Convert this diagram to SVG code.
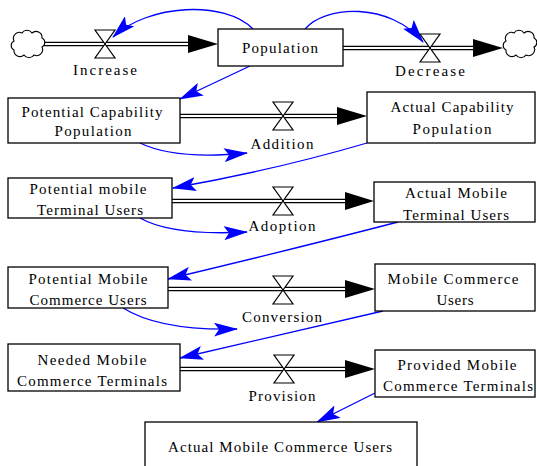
<svg xmlns="http://www.w3.org/2000/svg" width="537" height="466" viewBox="0 0 537 466">
<style>
text{font-family:"Liberation Serif","Times New Roman",serif;font-size:15px;fill:#000;text-anchor:middle}
.box{fill:#fff;stroke:#000;stroke-width:1.3}
.pipeO{stroke:#000;stroke-width:4.4;fill:none}
.pipeI{stroke:#fff;stroke-width:1.8;fill:none}
.head{fill:#000}
.link{stroke:#0000ff;stroke-width:1.3;fill:none;marker-end:url(#blue)}
.valve{fill:#fff;stroke:#000;stroke-width:1.2;stroke-linejoin:miter}
.cloud{fill:#fff;stroke:#000;stroke-width:1.1}
</style>
<defs>
<marker id="blue" viewBox="0 0 24 14" refX="23" refY="7" markerWidth="24" markerHeight="14" markerUnits="userSpaceOnUse" orient="auto">
<path d="M0,0 L24,7 L0,14 L5,7 Z" fill="#0000ff"/>
</marker>
<path id="hourglass" class="valve" d="M-10,-14 H10 L0,0 Z M-10,14 H10 L0,0 Z"/>
<path id="cloudShape" class="cloud" d="M14,50 a5,5 0 0 1 0,-9 a6,6 0 0 1 8,-8 a6,6 0 0 1 10,0 a6,6 0 0 1 10,5 a5,5 0 0 1 0,9 a6,6 0 0 1 -8,8 a6,6 0 0 1 -10,0 a6,6 0 0 1 -10,-5 Z"/>
</defs>
<rect width="537" height="466" fill="#fff"/>

<g id="connectors">
<path class="pipeO" d="M44,44 H192"/><path class="pipeI" d="M44,44 H192"/>
<polygon class="head" points="188,35 218,44 188,53"/>
<path class="pipeO" d="M343,48 H477"/><path class="pipeI" d="M343,48 H477"/>
<polygon class="head" points="473,39 503,48 473,57"/>
<path class="pipeO" d="M180,116 H341"/><path class="pipeI" d="M180,116 H341"/>
<polygon class="head" points="337,107 367,116 337,125"/>
<path class="pipeO" d="M172,201 H349"/><path class="pipeI" d="M172,201 H349"/>
<polygon class="head" points="345,192 374,201 345,210"/>
<path class="pipeO" d="M168,289 H349"/><path class="pipeI" d="M168,289 H349"/>
<polygon class="head" points="345,280 375,289 345,298"/>
<path class="pipeO" d="M180,369 H349"/><path class="pipeI" d="M180,369 H349"/>
<polygon class="head" points="345,360 375,369 345,378"/>
<path class="link" d="M253,29 C225,0 148,4 113,37"/>
<path class="link" d="M305,29 C325,5 390,2 423,42"/>
<path class="link" d="M250,66 L180,99"/>
<path class="link" d="M140,143 Q175,160 247,153"/>
<path class="link" d="M367,143 Q275,170 173,188"/>
<path class="link" d="M140,218 Q172,236 247,232"/>
<path class="link" d="M398,222 Q290,250 168,279"/>
<path class="link" d="M123,308 Q160,331 237,329"/>
<path class="link" d="M383,311 Q280,335 180,358"/>
<path class="link" d="M375,393 L317,422"/>
</g>

<g id="cloud-source"><use href="#cloudShape"/></g>
<g id="cloud-sink"><use href="#cloudShape" transform="translate(492,0)"/></g>

<g id="increase"><use href="#hourglass" transform="translate(105,44)"/><text x="105" y="75" textLength="64">Increase</text></g>
<g id="decrease"><use href="#hourglass" transform="translate(430,48)"/><text x="430" y="76" textLength="70">Decrease</text></g>
<g id="addition"><use href="#hourglass" transform="translate(283,116)"/><text x="282" y="149" textLength="63">Addition</text></g>
<g id="adoption"><use href="#hourglass" transform="translate(283,201)"/><text x="282" y="231" textLength="67">Adoption</text></g>
<g id="conversion"><use href="#hourglass" transform="translate(283,290)"/><text x="282" y="322" textLength="80">Conversion</text></g>
<g id="provision"><use href="#hourglass" transform="translate(284,369)"/><text x="282" y="401" textLength="67">Provision</text></g>

<g id="population"><rect class="box" x="218" y="29" width="125" height="37"/><text x="280" y="53" textLength="76">Population</text></g>

<g id="potential-capability-population"><rect class="box" x="8" y="98" width="172" height="45"/>
<text x="92" y="117" textLength="141">Potential Capability</text><text x="93" y="136" textLength="77">Population</text></g>
<g id="actual-capability-population"><rect class="box" x="367" y="92" width="168" height="51"/>
<text x="452" y="112" textLength="123">Actual Capability</text><text x="452" y="134" textLength="79">Population</text></g>

<g id="potential-mobile-terminal-users"><rect class="box" x="8" y="178" width="164" height="40"/>
<text x="88" y="194" textLength="117">Potential mobile</text><text x="90" y="215" textLength="106">Terminal Users</text></g>
<g id="actual-mobile-terminal-users"><rect class="box" x="374" y="182" width="161" height="40"/>
<text x="456" y="198" textLength="102">Actual Mobile</text><text x="456" y="220" textLength="106">Terminal Users</text></g>

<g id="potential-mobile-commerce-users"><rect class="box" x="8" y="267" width="160" height="41"/>
<text x="88" y="284" textLength="119">Potential Mobile</text><text x="88" y="305" textLength="117">Commerce Users</text></g>
<g id="mobile-commerce-users"><rect class="box" x="375" y="264" width="160" height="47"/>
<text x="453" y="284" textLength="131">Mobile Commerce</text><text x="455" y="305" textLength="37">Users</text></g>

<g id="needed-mobile-commerce-terminals"><rect class="box" x="8" y="344" width="172" height="47"/>
<text x="92" y="365" textLength="109">Needed Mobile</text><text x="92" y="386" textLength="150">Commerce Terminals</text></g>
<g id="provided-mobile-commerce-terminals"><rect class="box" x="375" y="350" width="160" height="47"/>
<text x="457" y="370" textLength="119">Provided Mobile</text><text x="458" y="391" textLength="150">Commerce Terminals</text></g>

<g id="actual-mobile-commerce-users"><rect class="box" x="145" y="422" width="272" height="60"/>
<text x="280" y="452" textLength="224">Actual Mobile Commerce Users</text></g>
</svg>
